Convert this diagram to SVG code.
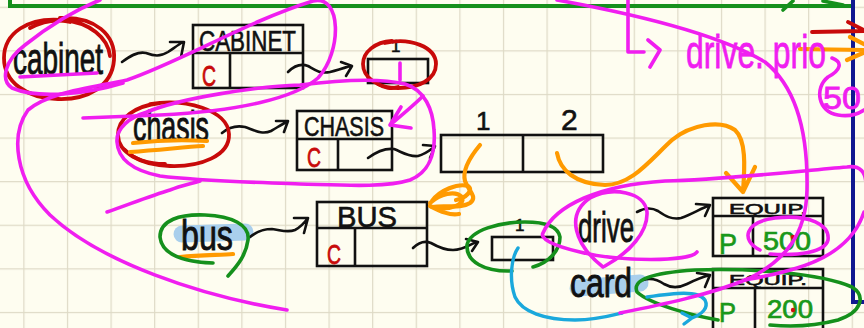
<svg xmlns="http://www.w3.org/2000/svg" width="864" height="328" viewBox="0 0 864 328">
  <defs>
    <pattern id="grid" patternUnits="userSpaceOnUse" x="23.3" y="6.7" width="43.6" height="43.6">
      <rect x="0" y="0" width="43.6" height="1.2" fill="#dedac6"/>
      <rect x="0" y="0" width="1.2" height="43.6" fill="#dedac6"/>
    </pattern>
    <style>
      .ink{fill:none;stroke:#111;stroke-width:2.6;stroke-linecap:round;stroke-linejoin:round}
      .box{fill:none;stroke:#111;stroke-width:2.6;stroke-linejoin:miter}
      .pk{fill:none;stroke:#f01ef0;stroke-width:3.6;stroke-linecap:round;stroke-linejoin:round}
      .rd{fill:none;stroke:#c80a0a;stroke-width:3.8;stroke-linecap:round;stroke-linejoin:round}
      .gr{fill:none;stroke:#15901c;stroke-width:3.6;stroke-linecap:round;stroke-linejoin:round}
      .or{fill:none;stroke:#ff9a00;stroke-width:4.2;stroke-linecap:round;stroke-linejoin:round}
      .cy{fill:none;stroke:#1aa8dc;stroke-width:3.4;stroke-linecap:round;stroke-linejoin:round}
      .hl{fill:none;stroke:#a9cfec;stroke-width:17;stroke-linecap:round}
      .hand{font-family:"Liberation Sans","DejaVu Sans",sans-serif;fill:#111;stroke:#111;stroke-width:0.9}
      .cap{font-family:"Liberation Sans","DejaVu Sans",sans-serif;fill:#111;stroke:#111;stroke-width:0.6}
      .redc{font-family:"Liberation Sans","DejaVu Sans",sans-serif;fill:#c80a0a;stroke:#c80a0a;stroke-width:0.8}
      .grt{font-family:"Liberation Sans","DejaVu Sans",sans-serif;fill:#1a981a;stroke:#1a981a;stroke-width:0.7}
      .pkt{font-family:"Liberation Sans","DejaVu Sans",sans-serif;fill:#f01ef0;stroke:#f01ef0;stroke-width:0.8}
    </style>
  </defs>

  <!-- paper -->
  <rect width="864" height="328" fill="#fefdf0"/>
  <rect width="864" height="328" fill="url(#grid)"/>

  <!-- page frame -->
  <path d="M10,0 L10,6 L852,6" fill="none" stroke="#15901c" stroke-width="4"/>
  <path d="M783,10 L793,1 M823,1 L843,5" class="gr" stroke-width="2.5"/>
  <path d="M853,0 L853,302 L864,302" fill="none" stroke="#101890" stroke-width="4"/>

  <!-- highlighter marks -->
  <path class="hl" d="M182,234 L245,232"/>
  <path class="hl" d="M578,288 L640,283"/>

  <!-- nodes -->
  <g id="cabinet-label">
    <text class="hand" x="13" y="74" font-size="44" textLength="90" lengthAdjust="spacingAndGlyphs">cabinet</text>
  </g>
  <g id="cabinet-struct">
    <rect class="box" x="193" y="25" width="110" height="63"/>
    <path class="box" d="M193,53 H303 M230,53 V88"/>
    <text class="cap" x="199" y="51" font-size="29" textLength="97" lengthAdjust="spacingAndGlyphs">CABINET</text>
    <text class="redc" x="202" y="86" font-size="29" textLength="14" lengthAdjust="spacingAndGlyphs">C</text>
  </g>
  <g id="cabinet-array">
    <rect class="box" x="368" y="59" width="60" height="24"/>
    <text class="cap" x="391" y="52" font-size="17">1</text>
  </g>

  <g id="chasis-label">
    <text class="hand" x="133" y="141" font-size="42" textLength="76" lengthAdjust="spacingAndGlyphs">chasis</text>
  </g>
  <g id="chasis-struct">
    <rect class="box" x="297" y="111" width="95" height="59"/>
    <path class="box" d="M297,139 H392 M338,139 V170"/>
    <text class="cap" x="304" y="136" font-size="27" textLength="80" lengthAdjust="spacingAndGlyphs">CHASIS</text>
    <text class="redc" x="307" y="167" font-size="28" textLength="14" lengthAdjust="spacingAndGlyphs">C</text>
  </g>
  <g id="chasis-array">
    <rect class="box" x="441" y="135" width="162" height="37"/>
    <path class="box" d="M523,135 V172"/>
    <text class="cap" x="476" y="130" font-size="26">1</text>
    <text class="cap" x="561" y="130" font-size="30">2</text>
  </g>

  <g id="bus-label">
    <text class="hand" x="181" y="250" font-size="43" textLength="52" lengthAdjust="spacingAndGlyphs">bus</text>
  </g>
  <g id="bus-struct">
    <rect class="box" x="317" y="202" width="110" height="64"/>
    <path class="box" d="M317,228 H427 M355,228 V266"/>
    <text class="cap" x="337" y="227" font-size="29" textLength="60" lengthAdjust="spacingAndGlyphs">BUS</text>
    <text class="redc" x="327" y="264" font-size="28" textLength="14" lengthAdjust="spacingAndGlyphs">C</text>
  </g>
  <g id="bus-array">
    <rect class="box" x="492" y="237" width="61" height="23"/>
    <text class="cap" x="515" y="231" font-size="17">1</text>
  </g>

  <g id="drive-label">
    <text class="hand" x="578" y="242" font-size="42" textLength="56" lengthAdjust="spacingAndGlyphs">drive</text>
  </g>
  <g id="card-label">
    <text class="hand" x="570" y="297" font-size="40" textLength="62" lengthAdjust="spacingAndGlyphs">card</text>
  </g>

  <g id="equip-drive">
    <rect class="box" x="713" y="198" width="110" height="58"/>
    <path class="box" d="M713,216 H823 M753,216 V256"/>
    <text class="cap" x="729" y="214" font-size="15" textLength="78" lengthAdjust="spacingAndGlyphs">EQUIP.</text>
    <text class="grt" x="719" y="254" font-size="30" textLength="18" lengthAdjust="spacingAndGlyphs">P</text>
    <text class="grt" x="763" y="250" font-size="25" textLength="48" lengthAdjust="spacingAndGlyphs">500</text>
    <circle cx="793" cy="237" r="2.2" fill="#d01010"/>
  </g>
  <g id="equip-card">
    <path class="box" d="M713,330 V269 H823 V330"/>
    <path class="box" d="M713,288 H823 M755,288 V330"/>
    <text class="cap" x="729" y="285" font-size="15" textLength="78" lengthAdjust="spacingAndGlyphs">EQUIP.</text>
    <text class="grt" x="719" y="322" font-size="28" textLength="17" lengthAdjust="spacingAndGlyphs">P</text>
    <text class="grt" x="767" y="318" font-size="25" textLength="46" lengthAdjust="spacingAndGlyphs">200</text>
    <circle cx="793" cy="310" r="2.2" fill="#d01010"/>
  </g>

  <!-- connectors -->
  <g id="connectors" class="ink">
    <path d="M122,62 C130,56 138,51 146,53 C154,56 160,57 168,52 C174,48 178,45 183,42 M170,42 L184,42 L181,57"/>
    <path d="M288,72 C294,66 300,63 308,66 C315,70 320,74 330,72 C338,70 344,68 350,66 M341,62 L352,66 L346,76"/>
    <path d="M222,133 C228,128 236,125 245,127 C254,130 262,135 271,131 C278,127 282,124 287,122 M276,121 L288,121 L284,132"/>
    <path d="M368,158 C376,152 385,148 394,149 C402,152 408,157 418,156 C426,154 430,150 434,147 M423,145 L435,146 L430,158"/>
    <path d="M250,237 C256,232 263,229 272,229 C281,230 287,233 295,230 C301,227 305,222 308,218 M294,218 L308,218 L304,233"/>
    <path d="M413,248 C418,243 424,240 431,243 C438,247 445,250 453,250 C462,250 468,246 476,242 M466,239 L478,242 L472,251"/>
    <path d="M637,212 C644,208 651,207 658,211 C665,216 672,220 681,218 C690,215 700,209 710,205 M696,204 L710,205 L705,216"/>
    <path d="M643,280 C650,278 657,279 664,284 C671,288 679,288 687,284 C695,280 702,277 710,275 M697,273 L710,275 L705,287"/>
  </g>

  <!-- red circling -->
  <g id="red-marks">
    <path class="rd" d="M60,18 C95,16 116,35 114,60 C112,86 88,100 58,99 C26,98 4,82 4,58 C4,33 28,17 62,20 C90,22 108,38 110,56"/>
    <path class="rd" d="M30,28 C45,20 58,19 70,22"/>
    <path class="rd" d="M385,43 C410,37 436,47 436,64 C436,80 418,88 398,88 C378,88 363,78 363,64 C363,52 375,42 392,41"/>
    <path class="rd" d="M378,84 C384,88 392,89 398,87"/>
    <path class="rd" d="M150,104 C185,98 228,110 229,134 C230,156 200,167 170,166 C140,165 118,152 118,135 C118,118 135,106 160,103"/>
    <path class="rd" d="M125,150 C135,160 150,164 165,164"/>
    <path class="rd" d="M812,32 L864,31 M848,22 L864,30"/>
  </g>

  <!-- orange marks -->
  <g id="orange-marks">
    <path class="or" d="M133,143 C160,140 190,140 207,141"/>
    <path class="or" d="M130,152 C160,150 185,147 203,146"/>
    <path class="or" d="M180,257 C200,255 220,255 233,254"/>
    <path class="or" d="M480,145 C470,157 462,170 465,181 C469,192 478,197 470,203 C461,209 446,205 432,207"/>
    <path class="or" d="M430,203 C440,194 455,190 462,197 C465,204 452,210 436,208 M430,206 C440,211 450,216 459,214 M432,201 C440,190 458,183 468,186 C474,190 466,198 456,200"/>
    <path class="or" d="M557,153 C560,170 575,184 605,185 C632,185 650,160 672,140 C690,125 720,119 735,130 C746,140 745,165 743,192 M726,173 L743,192 L755,167"/>
    <path class="or" d="M800,49 L864,50 M850,37 L864,44 M847,60 L863,53"/>
  </g>

  <!-- green circling -->
  <g id="green-marks">
    <path class="gr" d="M213,263 C185,262 162,255 160,237 C160,220 180,214 205,215 C232,216 250,225 248,240 C246,255 238,265 228,276"/>
    <path class="gr" d="M533,267 C550,262 560,250 560,237 C558,226 545,222 525,222 C500,222 470,230 467,245 C466,262 485,272 512,271"/>
    <path class="gr" d="M718,320 C690,315 650,304 637,292 C632,280 650,273 695,270 C750,268 820,273 852,287 C866,296 862,312 838,320 C815,326 790,327 770,325"/>
  </g>

  <!-- blue marks -->
  <g id="blue-marks">
    <path class="cy" d="M518,248 C511,258 509,280 515,297 C522,312 545,320 575,320 C595,320 610,316 622,313"/>
    <path class="cy" d="M647,297 C675,293 698,290 705,300 C709,308 702,314 692,318 M682,313 L692,318 L684,324"/>
  </g>

  <!-- pink annotations -->
  <g id="pink-marks">
    <path class="pk" d="M287,310 C200,296 100,262 50,215 C15,180 10,135 28,110 C50,92 90,88 127,80 C180,62 250,20 313,1 C342,-6 342,52 318,78 C295,98 240,111 160,115 L83,118"/>
    <path class="pk" d="M123,83 C90,93 40,100 12,88 C0,80 5,60 25,45 C50,25 75,10 100,0"/>
    <path class="pk" d="M20,77 L97,73"/>
    <path class="pk" d="M147,112 C180,98 260,86 300,85 C340,80 380,78 405,84 C425,90 433,110 434,130 C436,155 428,173 410,180 C385,188 340,185 300,184 C250,182 200,181 160,176 C130,170 118,158 117,142 C116,128 130,117 147,112"/>
    <path class="pk" d="M200,181 C190,184 180,186 170,190 C150,196 125,206 107,212"/>
    <path class="pk" d="M400,63 L400,80"/>
    <path class="pk" d="M423,96 C414,105 402,115 390,125 M401,107 L390,125 L411,128"/>
    <path class="pk" d="M557,0 C640,15 720,35 765,62 C800,90 808,140 807,190 C806,235 785,260 750,278 C710,295 660,305 620,313"/>
    <path class="pk" d="M628,0 L628,52 L644,52 M648,40 L660,50 L650,67"/>
    <path class="pk" d="M832,58 C843,62 841,70 828,77 C814,88 818,112 838,115 C850,117 858,114 864,110"/>
    <path class="pk" d="M697,252 C690,262 620,262 580,252 C550,245 540,238 543,233 C555,205 600,185 665,181 C720,180 790,172 847,167 C860,165 866,172 866,185"/>
    <path class="pk" d="M864,212 C855,240 830,258 797,268 C775,275 755,278 745,280"/>
    <path class="pk" d="M603,267 C575,245 565,215 590,198 C612,186 645,192 647,212 C648,232 630,252 605,266"/>
    <path class="pk" d="M760,250 C740,240 745,222 775,218 C810,214 830,225 828,240 C825,252 800,256 770,254"/>
    <text class="pkt" x="686" y="68" font-size="46" textLength="140" lengthAdjust="spacingAndGlyphs">drive. prio</text>
    <text class="pkt" x="823" y="109" font-size="32" textLength="38" lengthAdjust="spacingAndGlyphs">50</text>
  </g>
</svg>
